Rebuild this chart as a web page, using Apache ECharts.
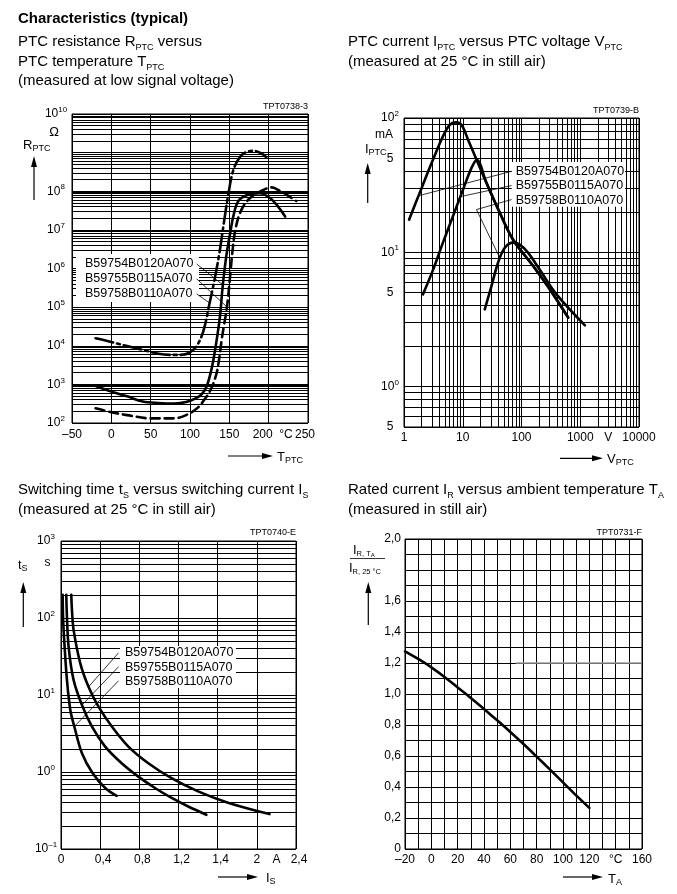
<!DOCTYPE html>
<html>
<head>
<meta charset="utf-8">
<title>Characteristics (typical)</title>
<script src="https://cdn.jsdelivr.net/npm/echarts@6.0.0/dist/echarts.min.js"></script>
<style>
html,body{margin:0;padding:0;background:#fff;}
#chart{width:677px;height:894px;}
</style>
</head>
<body>
<div id="chart"></div>
<script>
// ================= DATA =================
// --- Chart 1: PTC resistance R_PTC (Ohm) versus PTC temperature T_PTC (°C) ---
const rtTemp754 = [-20, 0, 20, 40, 60, 80, 95, 108, 115, 121, 127, 132, 138, 141.5, 146, 151, 155, 161, 172, 189, 202, 212, 221];
const rtRes754  = [910, 650, 490, 360, 330, 320, 350, 440, 560, 870, 2300, 8000, 56000, 340000, 2.0e6, 8.1e6, 2.2e7, 5.4e7, 7.9e7, 8.9e7, 6.6e7, 4.0e7, 2.2e7];
const rtTemp755 = [-20, 0, 20, 50, 80, 95, 110, 120, 125, 130, 135, 140, 143, 147, 151, 154, 158, 165, 176, 189, 204, 215, 225, 235];
const rtRes755  = [240, 190, 160, 132, 132, 160, 250, 450, 650, 1100, 2500, 13000, 32000, 1.0e5, 6.3e5, 2.8e6, 1.1e7, 3.2e7, 6.6e7, 9.8e7, 1.26e8, 1.0e8, 7.6e7, 5.6e7];
const rtTemp758 = [-20, 0, 20, 40, 60, 75, 88, 98, 108, 117, 125, 132, 138, 143, 149, 155, 163, 170, 180, 191, 197];
const rtRes758  = [15600, 12500, 9800, 7800, 6200, 5800, 5800, 6400, 9500, 24000, 1.3e5, 6.2e5, 3.0e6, 1.5e7, 9.0e7, 3.5e8, 7.5e8, 1.0e9, 1.12e9, 9.5e8, 7.6e8];
const rtLeader754 = [[108.5, 1.31e6], [141.5, 3.8e5]];
const rtLeader755 = [[108.5, 5.4e5], [147.2, 1.0e5]];
const rtLeader758 = [[108.5, 2.2e5], [125.4, 1.26e5]];
const rtXTicks = [-50, 0, 50, 100, 150, 200, 222, 250];
const rtXText  = ['–50', '0', '50', '100', '150', '{s6|200}', '°C', '{s3|250}'];
const rtYTicks = [1e2, 1e3, 1e4, 1e5, 1e6, 1e7, 1e8, 1e10];
const rtYText  = ['10{sup|2}', '10{sup|3}', '10{sup|4}', '10{sup|5}', '10{sup|6}', '10{sup|7}', '10{sup|8}', '10{sup|10}'];

// --- Chart 2: PTC current I_PTC (mA) versus PTC voltage V_PTC (V) ---
const viVolt754 = [1.22, 1.85, 3.12, 4.6, 6.0, 7.6, 9.5, 12.3, 17.1, 25.3, 42.7, 72, 158, 303, 623];
const viCurr754 = [17.5, 27.7, 49, 73, 89, 92.7, 89, 69, 49, 32.9, 19.7, 12.4, 7.9, 5.3, 3.26];
const viVolt755 = [2.1, 3.12, 4.6, 6.8, 10.1, 14.1, 17.3, 25.3, 42.7, 72, 158, 303, 623];
const viCurr755 = [4.86, 7.4, 11.8, 18.5, 29.3, 42.5, 48.8, 32.9, 19.7, 12.4, 7.9, 5.3, 3.26];
const viVolt758 = [23.7, 30.8, 40, 52, 72, 93.5, 130, 205, 395, 1200];
const viCurr758 = [3.76, 5.6, 8.4, 10.8, 11.8, 11.4, 9.9, 7.4, 4.86, 2.86];
const viLeader754 = [[67.6, 40.1], [1.8, 26.4]];
const viLeader755 = [[67.6, 31.4], [9.3, 26]];
const viLeader758 = [[67.6, 24.7], [17.1, 20.8], [42.7, 9.1]];
const viXTicks = [1, 10, 100, 1000, 3000, 10000];
const viXText  = ['1', '10', '100', '1000', 'V', '10000'];
const viYTicks = [0.5, 1, 5, 10, 50, 100];
const viYText  = ['5', '10{sup|0}', '5', '10{sup|1}', '5', '10{sup|2}'];

// --- Chart 3: switching time t_S (s) versus switching current I_S (A) ---
const swCurr754 = [0.105, 0.113, 0.129, 0.197, 0.281, 0.383, 0.519, 0.688, 0.892, 1.129, 1.4, 1.705, 2.129];
const swTime754 = [200, 120, 69.6, 25.8, 12.8, 7.05, 3.9, 2.14, 1.3, 0.83, 0.56, 0.40, 0.284];
const swCurr755 = [0.054, 0.06, 0.078, 0.129, 0.214, 0.315, 0.451, 0.62, 0.79, 0.96, 1.13, 1.30, 1.485];
const swTime755 = [200, 110, 42, 15.6, 7.4, 3.9, 2.14, 1.3, 0.87, 0.62, 0.46, 0.356, 0.278];
const swCurr758 = [0.017, 0.022, 0.037, 0.061, 0.095, 0.136, 0.214, 0.322, 0.451, 0.569];
const swTime758 = [200, 95, 42, 15.6, 6.4, 3.9, 1.75, 0.97, 0.62, 0.49];
const swLeader754 = [[0.588, 35.3], [0.282, 12.8]];
const swLeader755 = [[0.588, 23.3], [0.214, 7.4]];
const swLeader758 = [[0.588, 15.3], [0.136, 3.9]];
const swXTicks = [0, 0.4, 0.8, 1.2, 1.6, 2.0, 2.2, 2.4];
const swXText  = ['0', '{c6|0,4}', '{c6|0,8}', '{c6|1,2}', '{c6|1,4}', '2', 'A', '{c6|2,4}'];
const swYTicks = [0.1, 1, 10, 100, 1000];
const swYText  = ['10{sup|–1}', '10{sup|0}', '10{sup|1}', '10{sup|2}', '10{sup|3}'];

// --- Chart 4: rated current ratio I_R,TA / I_R,25°C versus ambient temperature T_A (°C) ---
const taTemp  = [-20, -10, 0, 10, 20, 30, 40, 50, 60, 70, 80, 90, 100, 110, 120];
const irRatio = [1.275, 1.226, 1.172, 1.110, 1.042, 0.974, 0.903, 0.830, 0.755, 0.677, 0.596, 0.514, 0.430, 0.346, 0.265];
const irGrayRef = [[64, 1.2], [160, 1.2]];
const taXTicks = [-20, 0, 20, 40, 60, 80, 100, 120, 140, 160];
const taXText  = ['–20', '0', '20', '40', '60', '80', '100', '120', '°C', '160'];
const irYTicks = [0, 0.2, 0.4, 0.6, 0.8, 1.0, 1.2, 1.4, 1.6, 2.0];
const irYText  = ['0', '0,2', '0,4', '0,6', '0,8', '1,0', '1,2', '1,4', '1,6', '2,0'];

const legendNames = ['B59754B0120A070', 'B59755B0115A070', 'B59758B0110A070'];

// ================= HELPERS =================
const FONT = '"Liberation Sans", Arial, Helvetica, sans-serif';
const L10 = Math.log10;
function pairs(xs, ys, logX, logY) {
  return xs.map((x, i) => [logX ? L10(x) : x, logY ? L10(ys[i]) : ys[i]]);
}
function ptsLog(pts, logX, logY) {
  return pts.map(p => [logX ? L10(p[0]) : p[0], logY ? L10(p[1]) : p[1]]);
}
function logGridVals(lo, hi, skip) {
  const out = [];
  for (let d = Math.floor(lo) - 1; d <= Math.ceil(hi); d++) {
    for (let k = 1; k <= 9; k++) {
      const v = L10(k) + d;
      if (v >= lo - 1e-9 && v <= hi + 1e-9 && !(skip || []).some(s => Math.abs(s - v) < 1e-9)) out.push(v);
    }
  }
  return out;
}
function lookup(vals, texts) {
  return function (v) {
    for (let i = 0; i < vals.length; i++) if (Math.abs(vals[i] - v) < 1e-6) return texts[i];
    return '';
  };
}
const tokenBase = {fontSize: 12, fontFamily: FONT, color: '#000'};
const labelRich = {
  sup: {fontSize: 8, fontFamily: FONT, color: '#000', verticalAlign: 'top', lineHeight: 9},
  s6: Object.assign({padding: [0, 12, 0, 0]}, tokenBase),
  s3: Object.assign({padding: [0, 6, 0, 0]}, tokenBase),
  c6: Object.assign({padding: [0, 0, 0, 6]}, tokenBase),
  r7: Object.assign({padding: [0, 7, 0, 0]}, tokenBase)
};
function axLabel(vals, texts, extra) {
  return Object.assign({
    show: true, customValues: vals, formatter: lookup(vals, texts),
    color: '#000', fontSize: 12, fontFamily: FONT, lineHeight: 16,
    rich: labelRich, hideOverlap: false, showMinLabel: true, showMaxLabel: true
  }, extra || {});
}
const gridLine = (w) => ({show: true, showMinLine: true, showMaxLine: true, lineStyle: {color: '#000', width: w || 1, type: 'solid'}});
const noLine = {show: false};
function baseAxis(o) {
  return Object.assign({type: 'value', axisLine: noLine, axisTick: {show: false}, splitArea: {show: false}, minorTick: {show: false}, minorSplitLine: {show: false}}, o);
}
function curve(data, xi, yi, dash) {
  return {
    type: 'line', xAxisIndex: xi, yAxisIndex: yi, data: data, showSymbol: false, symbol: 'none',
    smooth: 0.35, silent: true, animation: false, z: 3, clip: true,
    lineStyle: {color: '#000', width: 2.6, type: dash || 'solid', cap: 'round', join: 'round'}
  };
}
function leader(data, xi, yi) {
  return {
    type: 'line', xAxisIndex: xi, yAxisIndex: yi, data: data, showSymbol: false, symbol: 'none',
    smooth: false, silent: true, animation: false, z: 4,
    lineStyle: {color: '#000', width: 0.8}
  };
}
const textRich = {
  sub: {fontSize: 9, fontFamily: FONT, fill: '#000', verticalAlign: 'bottom', lineHeight: 10},
  s8: {fontSize: 7.5, fontFamily: FONT, fill: '#000', verticalAlign: 'bottom', lineHeight: 8},
  s6: {fontSize: 6, fontFamily: FONT, fill: '#000', verticalAlign: 'bottom', lineHeight: 5}
};
function txt(x, y, text, o) {
  return {
    type: 'text', x: x, y: y, z: 100, silent: true,
    style: Object.assign({
      text: text, fill: '#000', fontFamily: FONT, fontSize: 15, fontWeight: 'normal',
      align: 'left', verticalAlign: 'middle', textAlign: 'left', textVerticalAlign: 'middle',
      lineHeight: 20, rich: textRich
    }, o || {})
  };
}
function arrowUp(x, yb, yt) {
  return [
    {type: 'line', z: 100, silent: true, shape: {x1: x, y1: yb, x2: x, y2: yt + 8}, style: {stroke: '#000', lineWidth: 1.2}},
    {type: 'polygon', z: 100, silent: true, shape: {points: [[x, yt], [x - 3, yt + 11], [x + 3, yt + 11]]}, style: {fill: '#000'}}
  ];
}
function arrowRight(xl, xr, y) {
  return [
    {type: 'line', z: 100, silent: true, shape: {x1: xl, y1: y, x2: xr - 8, y2: y}, style: {stroke: '#000', lineWidth: 1.2}},
    {type: 'polygon', z: 100, silent: true, shape: {points: [[xr, y], [xr - 11, y - 3], [xr - 11, y + 3]]}, style: {fill: '#000'}}
  ];
}
function box(x, y, w, h) {
  return {type: 'rect', z: 1, silent: true, shape: {x: x, y: y, width: w, height: h}, style: {fill: '#fff'}};
}

// ================= OPTION =================
const gridBase = {show: true, borderColor: '#000', borderWidth: 1, backgroundColor: 'transparent', containLabel: false, outerBoundsMode: 'none'};
const option = {
  backgroundColor: '#fff',
  animation: false,
  grid: [
    Object.assign({left: 72, top: 114, width: 236, height: 309}, gridBase),
    Object.assign({left: 404, top: 118, width: 235, height: 309}, gridBase),
    Object.assign({left: 61, top: 541, width: 235, height: 308}, gridBase),
    Object.assign({left: 405, top: 539, width: 237, height: 310}, gridBase)
  ],
  xAxis: [
    baseAxis({gridIndex: 0, min: -50, max: 250, interval: 50, splitLine: gridLine(1),
      axisLabel: axLabel(rtXTicks, rtXText, {margin: 4})}),
    baseAxis({gridIndex: 1, min: 0, max: 4, axisTick: {show: false, customValues: logGridVals(0, 4)}, splitLine: gridLine(1),
      axisLabel: axLabel(viXTicks.map(L10), viXText, {margin: 3})}),
    baseAxis({gridIndex: 2, min: 0, max: 2.4, interval: 0.4, splitLine: gridLine(1),
      axisLabel: axLabel(swXTicks, swXText, {margin: 3})}),
    baseAxis({gridIndex: 3, min: -20, max: 160, interval: 10, splitLine: gridLine(1),
      axisLabel: axLabel(taXTicks, taXText, {margin: 3})})
  ],
  yAxis: [
    baseAxis({gridIndex: 0, min: 2, max: 10, axisTick: {show: false, customValues: logGridVals(2, 10, [3, 8])}, splitLine: gridLine(1),
      axisLabel: axLabel(rtYTicks.map(L10), rtYText, {margin: 16, align: 'center'})}),
    baseAxis({gridIndex: 0, min: 2, max: 10, axisTick: {show: false, customValues: [3, 8]}, splitLine: gridLine(2.2),
      axisLabel: {show: false}}),
    baseAxis({gridIndex: 1, min: L10(0.5), max: 2, axisTick: {show: false, customValues: logGridVals(L10(0.5), 2)}, splitLine: gridLine(1),
      axisLabel: axLabel(viYTicks.map(L10), viYText, {margin: 14, align: 'center'})}),
    baseAxis({gridIndex: 2, min: -1, max: 3, axisTick: {show: false, customValues: logGridVals(-1, 3)}, splitLine: gridLine(1),
      axisLabel: axLabel(swYTicks.map(L10), swYText, {margin: 15, align: 'center'})}),
    baseAxis({gridIndex: 3, min: 0, max: 2, interval: 0.1, splitLine: gridLine(1),
      axisLabel: axLabel(irYTicks, irYText, {margin: 4})})
  ],
  series: [
    // chart 1
    curve(pairs(rtTemp754, rtRes754, false, true), 0, 0, 'solid'),
    curve(pairs(rtTemp755, rtRes755, false, true), 0, 0, [9, 5]),
    curve(pairs(rtTemp758, rtRes758, false, true), 0, 0, [18, 4, 3, 4]),
    leader(ptsLog(rtLeader754, false, true), 0, 0),
    leader(ptsLog(rtLeader755, false, true), 0, 0),
    leader(ptsLog(rtLeader758, false, true), 0, 0),
    // chart 2
    curve(pairs(viVolt754, viCurr754, true, true), 1, 2),
    curve(pairs(viVolt755, viCurr755, true, true), 1, 2),
    curve(pairs(viVolt758, viCurr758, true, true), 1, 2),
    leader(ptsLog(viLeader754, true, true), 1, 2),
    leader(ptsLog(viLeader755, true, true), 1, 2),
    leader(ptsLog(viLeader758, true, true), 1, 2),
    // chart 3
    curve(pairs(swCurr754, swTime754, false, true), 2, 3),
    curve(pairs(swCurr755, swTime755, false, true), 2, 3),
    curve(pairs(swCurr758, swTime758, false, true), 2, 3),
    leader(ptsLog(swLeader754, false, true), 2, 3),
    leader(ptsLog(swLeader755, false, true), 2, 3),
    leader(ptsLog(swLeader758, false, true), 2, 3),
    // chart 4
    curve(pairs(taTemp, irRatio, false, false), 3, 4),
    {type: 'line', xAxisIndex: 3, yAxisIndex: 4, data: irGrayRef, showSymbol: false, symbol: 'none', silent: true, animation: false, z: 2,
      lineStyle: {color: '#9a9a9a', width: 1.4}}
  ],
  graphic: {elements: [].concat(
    [
      txt(18, 19, 'Characteristics (typical)', {fontWeight: 'bold', fontSize: 15}),
      // chart 1 titles
      txt(18, 42, 'PTC resistance R{sub|PTC} versus'),
      txt(18, 62, 'PTC temperature T{sub|PTC}'),
      txt(18, 81, '(measured at low signal voltage)'),
      // chart 2 titles
      txt(348, 42, 'PTC current I{sub|PTC} versus PTC voltage V{sub|PTC}'),
      txt(348, 62, '(measured at 25 °C in still air)'),
      // chart 3 titles
      txt(18, 490, 'Switching time t{sub|S} versus switching current I{sub|S}'),
      txt(18, 510, '(measured at 25 °C in still air)'),
      // chart 4 titles
      txt(348, 490, 'Rated current I{sub|R} versus ambient temperature T{sub|A}'),
      txt(348, 510, '(measured in still air)'),
      // figure codes
      txt(308, 107, 'TPT0738-3', {fontSize: 9, align: 'right', textAlign: 'right', lineHeight: 10}),
      txt(639, 111, 'TPT0739-B', {fontSize: 9, align: 'right', textAlign: 'right', lineHeight: 10}),
      txt(296, 533, 'TPT0740-E', {fontSize: 9, align: 'right', textAlign: 'right', lineHeight: 10}),
      txt(642, 533, 'TPT0731-F', {fontSize: 9, align: 'right', textAlign: 'right', lineHeight: 10}),
      // axis titles & units
      txt(23, 145, 'R{sub|PTC}', {fontSize: 13, lineHeight: 16}),
      txt(54, 132, 'Ω', {fontSize: 13, align: 'center', textAlign: 'center', lineHeight: 16}),
      txt(277, 457, 'T{sub|PTC}', {fontSize: 13, lineHeight: 16}),
      txt(365, 149, 'I{sub|PTC}', {fontSize: 13, lineHeight: 16}),
      txt(384, 135, 'mA', {fontSize: 12, align: 'center', textAlign: 'center', lineHeight: 16}),
      txt(607, 459, 'V{sub|PTC}', {fontSize: 13, lineHeight: 16}),
      txt(18, 565, 't{sub|S}', {fontSize: 13, lineHeight: 16}),
      txt(47.5, 563, 's', {fontSize: 12, align: 'center', textAlign: 'center', lineHeight: 16}),
      txt(266, 878, 'I{sub|S}', {fontSize: 13, lineHeight: 16}),
      txt(353, 550, 'I{s8|R, T}{s6|A}', {fontSize: 13, lineHeight: 16}),
      txt(349, 568, 'I{s8|R, 25 °C}', {fontSize: 13, lineHeight: 16}),
      {type: 'line', z: 100, silent: true, shape: {x1: 350, y1: 558.5, x2: 385, y2: 558.5}, style: {stroke: '#000', lineWidth: 0.8}},
      txt(608, 879, 'T{sub|A}', {fontSize: 13, lineHeight: 16}),
      // label boxes
      box(76, 254, 123, 48),
      box(511.7, 162, 113.3, 44.7),
      box(120, 646, 116, 42)
    ],
    legendNames.map((n, i) => txt(85, 264 + i * 15, n, {fontSize: 12.5, lineHeight: 15})),
    legendNames.map((n, i) => txt(515.7, 171.7 + i * 14.2, n, {fontSize: 12.5, lineHeight: 15})),
    legendNames.map((n, i) => txt(125, 652.7 + i * 14.5, n, {fontSize: 12.5, lineHeight: 15})),
    arrowUp(34, 200, 156),
    arrowRight(228, 273, 456),
    arrowUp(367.7, 203, 163),
    arrowRight(560, 603, 458.3),
    arrowUp(23.3, 627, 582),
    arrowRight(218, 258, 877),
    arrowUp(368.3, 625, 582),
    arrowRight(563, 603, 877)
  )}
};

const chart = echarts.init(document.getElementById('chart'), null, {renderer: 'canvas'});
chart.setOption(option);
</script>
</body>
</html>
